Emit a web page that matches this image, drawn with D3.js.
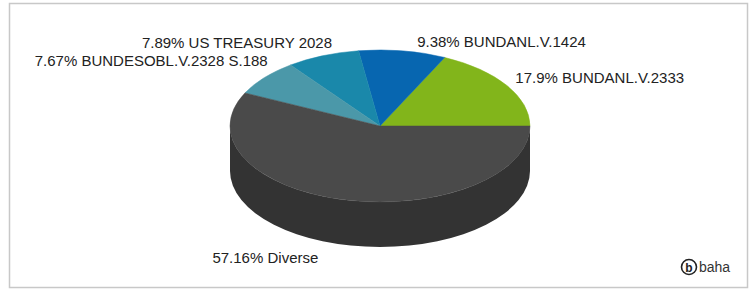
<!DOCTYPE html>
<html>
<head>
<meta charset="utf-8">
<script src="https://cdn.jsdelivr.net/npm/d3@7"></script>
<style>
  html, body { margin: 0; padding: 0; background: #fff; }
  svg { display: block; }
  text { font-family: "Liberation Sans", Arial, sans-serif; }
</style>
</head>
<body>
<svg id="chart" width="754" height="291"></svg>
<script>
// ---- data ----
const categories = ["BUNDANL.V.2333", "BUNDANL.V.1424", "US TREASURY 2028", "BUNDESOBL.V.2328 S.188", "Diverse"];
const values = [17.9, 9.38, 7.89, 7.67, 57.16];
const valueLabels = ["17.9%", "9.38%", "7.89%", "7.67%", "57.16%"];
const colors = ["#82b51b", "#0766b0", "#1a88aa", "#4b98a9", "#4a4a4a"];
const sideColors = ["#5f8714", "#054c84", "#136680", "#38727f", "#333333"];
// label nudges (layout, px) relative to the geometric anchor
const labelNudgeX = [0, 13, 13, 11, -26];
const labelNudgeY = [-2, 1, -4, -10, 3];

// ---- layout ----
const W = 754, H = 291;
const cx = 380, cy = 126, rx = 150, ry = 76, depth = 45;

const svg = d3.select("#chart");

// frame
svg.append("rect")
  .attr("x", 9.5).attr("y", 3.5).attr("width", 738).attr("height", 284)
  .attr("fill", "#fff").attr("stroke", "#c8c8c8").attr("stroke-width", 1.5);

const pie = d3.pie().sort(null).value(d => d).startAngle(0).endAngle(2 * Math.PI);
const arcs = pie(values).map((a, i) => ({ t0: a.startAngle, t1: a.endAngle, i }));

const px = t => cx + rx * Math.cos(t);
const py = t => cy - ry * Math.sin(t);

// side walls (front half only: t in [pi, 2pi])
const g = svg.append("g");
arcs.forEach(a => {
  const s = Math.max(a.t0, Math.PI), e = Math.min(a.t1, 2 * Math.PI);
  if (e <= s) return;
  const large = (e - s) > Math.PI ? 1 : 0;
  const d = `M${px(s)},${py(s)} A${rx},${ry} 0 ${large} 0 ${px(e)},${py(e)}` +
            ` L${px(e)},${py(e) + depth} A${rx},${ry} 0 ${large} 1 ${px(s)},${py(s) + depth} Z`;
  g.append("path").attr("d", d).attr("fill", sideColors[a.i]);
});

// top faces
arcs.forEach(a => {
  const large = (a.t1 - a.t0) > Math.PI ? 1 : 0;
  const d = `M${cx},${cy} L${px(a.t0)},${py(a.t0)} A${rx},${ry} 0 ${large} 0 ${px(a.t1)},${py(a.t1)} Z`;
  g.append("path").attr("d", d).attr("fill", colors[a.i])
    .attr("stroke", colors[a.i]).attr("stroke-width", 0.5);
});

// labels
arcs.forEach(a => {
  const m = (a.t0 + a.t1) / 2;
  const c = Math.cos(m), s = Math.sin(m);
  let x = cx + (rx + 10) * c;
  let y = cy - (ry + 10) * s + (s < 0 ? depth : 0);
  x += labelNudgeX[a.i];
  y += labelNudgeY[a.i];
  svg.append("text")
    .attr("x", x).attr("y", y)
    .attr("dy", "0.35em")
    .attr("text-anchor", c >= 0 ? "start" : "end")
    .attr("font-size", 15)
    .attr("fill", "#222")
    .text(valueLabels[a.i] + " " + categories[a.i]);
});

// logo
const logo = svg.append("g");
logo.append("circle").attr("cx", 689).attr("cy", 267).attr("r", 7.5)
  .attr("fill", "#fff").attr("stroke", "#222").attr("stroke-width", 1.6);
logo.append("text").attr("x", 689).attr("y", 271.5).attr("text-anchor", "middle")
  .attr("font-size", 12).attr("font-weight", "bold").attr("fill", "#222").text("b");
logo.append("text").attr("x", 699).attr("y", 272).attr("font-size", 14)
  .attr("fill", "#333").text("baha");
</script>
</body>
</html>
